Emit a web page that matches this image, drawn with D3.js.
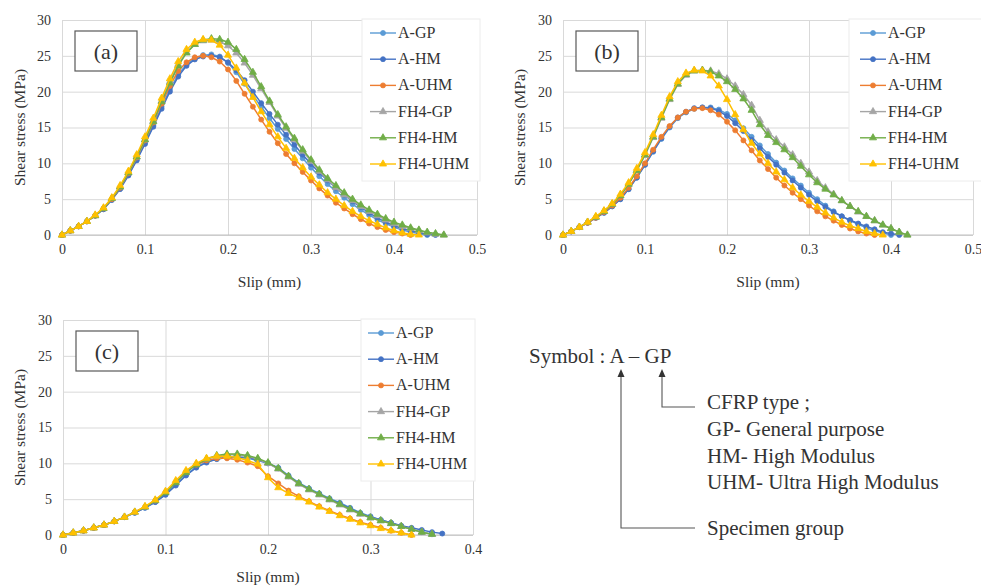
<!DOCTYPE html>
<html>
<head>
<meta charset="utf-8">
<script src="https://cdn.jsdelivr.net/npm/d3@7"></script>
<style>
body{margin:0;background:#fff}
</style>
</head>
<body>
<svg id="chart" width="981" height="586"></svg>
<script>
// series names / colours (same in all three panels)
var seriesNames = ["A-GP","A-HM","A-UHM","FH4-GP","FH4-HM","FH4-UHM"]
var seriesColors = ["#5B9BD5","#4472C4","#ED7D31","#A5A5A5","#70AD47","#FFC000"]
var yTicks = [0,5,10,15,20,25,30]

// slip values (mm) for each panel
var slipA = [0,0.01,0.02,0.03,0.04,0.05,0.06,0.07,0.08,0.09,0.10,0.11,0.12,0.13,0.14,0.15,0.16,0.17,0.18,0.19,0.20,0.21,0.22,0.23,0.24,0.25,0.26,0.27,0.28,0.29,0.30,0.31,0.32,0.33,0.34,0.35,0.36,0.37,0.38,0.39,0.40,0.41,0.42,0.43,0.44,0.45,0.46]
var slipB = [0,0.01,0.02,0.03,0.04,0.05,0.06,0.07,0.08,0.09,0.10,0.11,0.12,0.13,0.14,0.15,0.16,0.17,0.18,0.19,0.20,0.21,0.22,0.23,0.24,0.25,0.26,0.27,0.28,0.29,0.30,0.31,0.32,0.33,0.34,0.35,0.36,0.37,0.38,0.39,0.40,0.41,0.42]
var slipC = [0,0.01,0.02,0.03,0.04,0.05,0.06,0.07,0.08,0.09,0.10,0.11,0.12,0.13,0.14,0.15,0.16,0.17,0.18,0.19,0.20,0.21,0.22,0.23,0.24,0.25,0.26,0.27,0.28,0.29,0.30,0.31,0.32,0.33,0.34,0.35,0.36,0.37]

// shear stress (MPa), panel (a)
var a_AGP = [0,0.6,1.2,1.9,2.7,3.6,4.9,6.5,8.4,10.5,12.9,15.3,17.9,20.3,22.4,23.8,24.7,25.1,25.2,24.9,24.0,22.7,21.1,19.5,17.9,16.3,14.8,13.4,12.0,10.7,9.4,8.2,7.1,6.1,5.2,4.3,3.5,2.8,2.1,1.6,1.1,0.7,0.4,0.2,0]
var a_AHM = [0,0.6,1.2,1.9,2.7,3.6,4.9,6.4,8.3,10.4,12.7,15.1,17.6,20.0,22.1,23.6,24.5,24.9,25.0,24.8,24.1,23.0,21.6,20.0,18.4,16.9,15.4,14.0,12.6,11.2,9.9,8.7,7.6,6.6,5.6,4.7,3.9,3.1,2.4,1.8,1.3,0.9,0.6,0.3,0.1,0]
var a_AUHM = [0,0.6,1.2,1.9,2.7,3.7,5.0,6.6,8.6,10.8,13.2,15.7,18.3,20.8,22.9,24.1,24.8,25.0,24.8,24.2,23.1,21.5,19.7,17.9,16.1,14.4,12.8,11.3,10.0,8.8,7.6,6.5,5.5,4.5,3.7,2.9,2.2,1.6,1.1,0.7,0.4,0.2,0]
var a_FGP = [0,0.6,1.2,1.9,2.7,3.7,5.1,6.7,8.7,10.9,13.3,15.9,18.7,21.4,23.8,25.5,26.6,27.1,27.2,27.0,26.4,25.4,24.0,22.3,20.4,18.5,16.6,14.9,13.3,11.7,10.3,8.9,7.7,6.6,5.6,4.8,4.0,3.3,2.7,2.1,1.6,1.2,0.9,0.6,0.3,0.1,0]
var a_FHM = [0,0.6,1.2,1.9,2.7,3.7,5.1,6.7,8.7,10.9,13.3,15.8,18.6,21.2,23.6,25.4,26.6,27.2,27.4,27.3,26.9,25.9,24.5,22.7,20.7,18.7,16.8,15.1,13.5,11.9,10.5,9.1,7.9,6.9,5.9,5.0,4.2,3.5,2.9,2.3,1.8,1.4,1.0,0.7,0.4,0.2,0]
var a_FUHM = [0,0.6,1.2,1.9,2.8,3.8,5.2,6.9,8.9,11.2,13.7,16.3,19.1,21.8,24.2,25.9,26.9,27.3,27.2,26.5,25.1,23.3,21.2,19.2,17.2,15.4,13.7,12.1,10.7,9.4,8.1,7.0,5.9,5.0,4.1,3.3,2.6,2.0,1.5,1.0,0.6,0.3,0.1,0]

// panel (b)
var b_AGP = [0,0.5,1.1,1.7,2.4,3.1,4.0,5.0,6.4,8.0,9.8,11.6,13.4,15.0,16.3,17.1,17.6,17.8,17.8,17.5,16.9,16.0,14.9,13.7,12.5,11.3,10.1,9.0,7.9,6.9,5.9,5.0,4.1,3.3,2.6,2.0,1.5,1.0,0.6,0.3,0]
var b_AHM = [0,0.5,1.1,1.7,2.4,3.1,4.0,5.0,6.4,8.0,9.8,11.7,13.5,15.1,16.4,17.2,17.7,17.8,17.7,17.3,16.6,15.6,14.5,13.3,12.1,10.9,9.8,8.7,7.6,6.6,5.6,4.7,3.9,3.2,2.6,2.1,1.6,1.2,0.8,0.4,0.2,0]
var b_AUHM = [0,0.5,1.1,1.7,2.4,3.2,4.1,5.2,6.6,8.2,10.0,11.9,13.7,15.2,16.4,17.2,17.6,17.7,17.4,16.8,15.8,14.6,13.2,11.8,10.4,9.2,8.0,6.9,5.9,5.0,4.1,3.3,2.6,2.0,1.4,0.9,0.5,0.2,0]
var b_FGP = [0,0.5,1.1,1.8,2.5,3.3,4.3,5.5,7.1,9.0,11.1,13.6,16.3,18.9,21.0,22.3,22.9,23.0,22.9,22.5,21.8,20.8,19.6,18.1,16.0,14.4,13.3,12.3,11.2,10.0,8.8,7.6,6.6,5.7,4.8,4.0,3.2,2.6,2.0,1.4,0.9,0.4,0]
var b_FHM = [0,0.5,1.1,1.8,2.5,3.3,4.3,5.5,7.1,9.0,11.2,13.7,16.4,19.0,21.1,22.4,22.9,23.0,22.8,22.2,21.4,20.3,19.0,17.4,15.4,13.9,12.9,11.9,10.8,9.6,8.4,7.3,6.4,5.6,4.8,4.0,3.3,2.6,2.0,1.4,0.9,0.4,0]
var b_FUHM = [0,0.5,1.1,1.8,2.6,3.4,4.4,5.7,7.3,9.3,11.5,14.0,16.7,19.3,21.4,22.6,23.0,22.9,22.2,20.8,18.9,16.8,14.7,12.8,11.3,10.0,8.8,7.7,6.6,5.6,4.7,3.9,3.1,2.4,1.8,1.3,0.9,0.5,0.2,0]

// panel (c)
var c_AGP = [0,0.3,0.6,1.0,1.4,1.9,2.5,3.1,3.8,4.6,5.7,7.0,8.4,9.5,10.2,10.6,10.8,10.8,10.7,10.4,10.0,9.4,8.3,7.3,6.5,5.8,5.1,4.5,3.8,3.1,2.6,2.1,1.7,1.2,0.8,0.4,0.1]
var c_AHM = [0,0.3,0.6,1.0,1.4,1.9,2.5,3.1,3.8,4.6,5.6,6.9,8.3,9.4,10.1,10.6,10.8,10.9,10.8,10.5,10.0,9.3,8.2,7.2,6.4,5.7,5.0,4.4,3.7,3.0,2.5,2.1,1.7,1.3,1.0,0.7,0.4,0.2]
var c_AUHM = [0,0.3,0.6,1.0,1.4,1.9,2.5,3.2,3.9,4.8,6.0,7.4,8.8,9.8,10.4,10.7,10.7,10.5,10.1,9.6,8.2,7.2,6.2,5.4,4.7,4.0,3.4,2.8,2.3,1.8,1.4,1.0,0.6,0.3,0]
var c_FGP = [0,0.3,0.6,1.0,1.4,1.9,2.5,3.2,3.9,4.8,6.0,7.4,8.8,9.9,10.6,11.0,11.2,11.2,11.0,10.6,10.0,9.2,8.1,7.1,6.3,5.6,4.9,4.2,3.5,2.9,2.4,2.0,1.6,1.2,0.8,0.4,0.1]
var c_FHM = [0,0.3,0.6,1.0,1.4,1.9,2.5,3.2,3.9,4.8,5.9,7.3,8.7,9.8,10.6,11.1,11.3,11.3,11.1,10.7,10.1,9.3,8.2,7.2,6.4,5.7,5.0,4.3,3.6,3.0,2.4,2.0,1.6,1.2,0.8,0.4,0.1]
var c_FUHM = [0,0.3,0.6,1.0,1.4,1.9,2.5,3.2,4.0,4.9,6.1,7.6,9.0,10.0,10.7,11.0,11.0,10.8,10.4,9.9,8.0,6.6,5.8,5.2,4.6,3.9,3.3,2.7,2.2,1.7,1.3,0.9,0.6,0.3,0]

var cfrpLines = ["CFRP type ;","GP- General purpose","HM- High Modulus","UHM- Ultra High Modulus"]

// panel layout (pixels)
var panels = [
    {tag:"(a)", slip:slipA, series:[a_AGP,a_AHM,a_AUHM,a_FGP,a_FHM,a_FUHM], xMax:0.5, xTicks:[0,0.1,0.2,0.3,0.4,0.5],
     left:62, right:477, top:20, bottom:235, legX:362, legW:118, legLine:370, legRow0:33, yLabX:20, xLabY:287},
    {tag:"(b)", slip:slipB, series:[b_AGP,b_AHM,b_AUHM,b_FGP,b_FHM,b_FUHM], xMax:0.5, xTicks:[0,0.1,0.2,0.3,0.4,0.5],
     left:563, right:973, top:20, bottom:235, legX:849, legW:140, legLine:860, legRow0:33, yLabX:520, xLabY:287},
    {tag:"(c)", slip:slipC, series:[c_AGP,c_AHM,c_AUHM,c_FGP,c_FHM,c_FUHM], xMax:0.4, xTicks:[0,0.1,0.2,0.3,0.4],
     left:63, right:473, top:320, bottom:535, legX:361, legW:114, legLine:368, legRow0:333, yLabX:20, xLabY:582}
]

var serif = "'Liberation Serif', 'Times New Roman', serif"
var svg = d3.select("#chart").attr("font-family", serif)

function marker(sel, i, cx, cy) {
    if (i < 3) {
        sel.append("circle").attr("cx", cx).attr("cy", cy).attr("r", 2.5)
            .attr("fill", seriesColors[i]).attr("stroke", seriesColors[i]).attr("stroke-width", 0.8)
    } else {
        sel.append("path").attr("d", d3.symbol().type(d3.symbolTriangle).size(22)())
            .attr("transform", "translate(" + cx + "," + cy + ")")
            .attr("fill", seriesColors[i]).attr("stroke", seriesColors[i]).attr("stroke-width", 0.8)
    }
}

panels.forEach(function(p) {
    var x = d3.scaleLinear().domain([0, p.xMax]).range([p.left, p.right]),
        y = d3.scaleLinear().domain([0, 30]).range([p.bottom, p.top]),
        g = svg.append("g")

    // gridlines
    g.append("g").attr("class", "grid")
        .attr("transform", "translate(" + p.left + ",0)")
        .call(d3.axisLeft(y).tickValues(yTicks).tickSize(-(p.right - p.left)).tickFormat(""))
    g.append("g").attr("class", "grid")
        .attr("transform", "translate(0," + p.bottom + ")")
        .call(d3.axisBottom(x).tickValues(p.xTicks).tickSize(-(p.bottom - p.top)).tickFormat(""))
    g.selectAll(".grid .domain").remove()
    g.selectAll(".grid line").attr("stroke", "#d9d9d9").attr("stroke-width", 1)
    g.append("line").attr("x1", p.left).attr("x2", p.right).attr("y1", p.bottom).attr("y2", p.bottom)
        .attr("stroke", "#bfbfbf")

    // tick labels
    var yAx = g.append("g").attr("transform", "translate(" + p.left + ",0)")
        .call(d3.axisLeft(y).tickValues(yTicks).tickSize(0).tickPadding(11))
    var xAx = g.append("g").attr("transform", "translate(0," + p.bottom + ")")
        .call(d3.axisBottom(x).tickValues(p.xTicks).tickSize(0).tickPadding(9)
            .tickFormat(function(d) { return d === 0 ? "0" : d3.format(".1f")(d) }))
    g.selectAll(".domain").remove()
    yAx.attr("font-family", null).attr("font-size", null)
    xAx.attr("font-family", null).attr("font-size", null)
    yAx.selectAll("text").style("font-size", "14px")
    xAx.selectAll("text").style("font-size", "14px")

    // curves
    p.series.forEach(function(vals, i) {
        var pts = vals.map(function(v, k) { return [p.slip[k], v] })
        g.append("path").datum(pts)
            .attr("fill", "none").attr("stroke", seriesColors[i]).attr("stroke-width", 1.5)
            .attr("d", d3.line().x(function(d) { return x(d[0]) }).y(function(d) { return y(d[1]) }))
        var mg = g.append("g")
        pts.forEach(function(d) { marker(mg, i, x(d[0]), y(d[1])) })
    })

    // legend
    g.append("rect").attr("x", p.legX).attr("y", p.top - 1).attr("width", p.legW).attr("height", 162)
        .attr("fill", "#fff").attr("stroke", "#ececec")
    seriesNames.forEach(function(n, i) {
        var ry = p.legRow0 + i * 26.2
        g.append("line").attr("x1", p.legLine).attr("x2", p.legLine + 26).attr("y1", ry).attr("y2", ry)
            .attr("stroke", seriesColors[i]).attr("stroke-width", 1.4)
        marker(g, i, p.legLine + 13, ry)
        g.append("text").attr("x", p.legLine + 28).attr("y", ry + 5).style("font-size", "16px").text(n)
    })

    // panel tag
    g.append("rect").attr("x", p.left + 13).attr("y", p.top + 11).attr("width", 62).attr("height", 40)
        .attr("fill", "#fff").attr("stroke", "#595959").attr("stroke-width", 1.2)
    g.append("text").attr("x", p.left + 44).attr("y", p.top + 39).attr("text-anchor", "middle")
        .style("font-size", "22px").text(p.tag)

    // axis titles
    g.append("text").attr("transform", "translate(" + p.yLabX + "," + ((p.top + p.bottom) / 2) + ") rotate(-90)")
        .attr("text-anchor", "middle").attr("dy", "0.35em").style("font-size", "15.5px").text("Shear stress (MPa)")
    g.append("text").attr("x", (p.left + p.right) / 2).attr("y", p.xLabY).attr("text-anchor", "middle")
        .style("font-size", "15.5px").text("Slip (mm)")
})

// symbol explanation
var ann = svg.append("g")
ann.append("text").attr("x", 529).attr("y", 363).style("font-size", "21px").text("Symbol : A \u2013 GP")
ann.append("path").attr("d", "M621,374V528H695").attr("fill", "none").attr("stroke", "#555").attr("stroke-width", 1.1)
ann.append("path").attr("d", "M662,374V407H695").attr("fill", "none").attr("stroke", "#555").attr("stroke-width", 1.1)
ann.append("path").attr("d", "M621,369l-3.5,8h7z").attr("fill", "#333")
ann.append("path").attr("d", "M662,369l-3.5,8h7z").attr("fill", "#333")
cfrpLines.forEach(function(t, i) {
    ann.append("text").attr("x", 707).attr("y", 409 + i * 26.8).style("font-size", "21px").text(t)
})
ann.append("text").attr("x", 707).attr("y", 535).style("font-size", "21px").text("Specimen group")

svg.selectAll("text").style("font-family", serif).attr("fill", "#333")
</script>
</body>
</html>
